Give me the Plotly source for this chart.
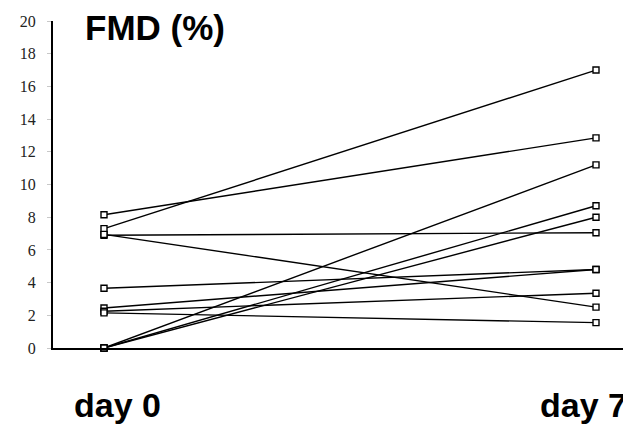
import plotly.graph_objects as go

days = ["day 0", "day 7"]
day0 = [8.15, 7.3, 6.9, 6.95, 3.65, 2.45, 2.25, 2.15, 0.0, 0.0, 0.0]
day7 = [12.85, 17.0, 7.05, 2.5, 4.8, 4.8, 3.35, 1.55, 11.2, 8.7, 8.0]
yticks = [0, 2, 4, 6, 8, 10, 12, 14, 16, 18, 20]
title_text = "FMD (%)"

# the page body has an 8px margin; compensate so the figure fills the window
OFF = 8
W, H = 631 - OFF, 427 - OFF
ml, mr, mt, mb = 53 - OFF, 0, 21 - OFF, 427 - 348
pw = W - ml - mr
ph = H - mt - mb

fig = go.Figure()
for a, b in zip(day0, day7):
    fig.add_trace(go.Scatter(
        x=[0, 1], y=[a, b], mode="lines+markers",
        line=dict(color="black", width=1.4),
        marker=dict(symbol="square", size=6, color="white",
                    line=dict(color="black", width=1.4)),
        cliponaxis=False, showlegend=False, hoverinfo="y"))

def px_x(p):
    return (p - 53) / pw

def px_y(p):
    return (348 - p) / ph

annotations = [
    dict(text=title_text, x=px_x(155), y=px_y(27), xref="paper", yref="paper",
         xanchor="center", yanchor="middle", showarrow=False,
         font=dict(family="Liberation Sans, Arial", size=35, color="black")),
    dict(text=days[0], x=px_x(117), y=px_y(405), xref="paper", yref="paper",
         xanchor="center", yanchor="middle", showarrow=False,
         font=dict(family="Liberation Sans, Arial", size=34, color="black")),
    dict(text=days[1], x=px_x(583), y=px_y(405), xref="paper", yref="paper",
         xanchor="center", yanchor="middle", showarrow=False,
         font=dict(family="Liberation Sans, Arial", size=34, color="black")),
]
for a in annotations:
    a["font"]["weight"] = "bold"

x_left = (53 - 104) / 492
x_right = (631 - 104) / 492

fig.update_layout(
    width=W, height=H,
    margin=dict(l=ml, r=mr, t=mt, b=mb),
    paper_bgcolor="white", plot_bgcolor="white",
    annotations=annotations,
    xaxis=dict(range=[x_left, x_right], showgrid=False, zeroline=False,
               showticklabels=False, ticks="", showline=True,
               linecolor="black", linewidth=2),
    yaxis=dict(range=[0, 20], tickvals=yticks, showgrid=False, zeroline=False,
               showline=True, linecolor="black", linewidth=2,
               ticks="outside", ticklen=4, tickcolor="#c8c8c8", tickwidth=1,
               ticklabelstandoff=8,
               tickfont=dict(family="Liberation Serif, Times New Roman", size=16,
                             color="#222")),
)

fig.write_html("out.html")
